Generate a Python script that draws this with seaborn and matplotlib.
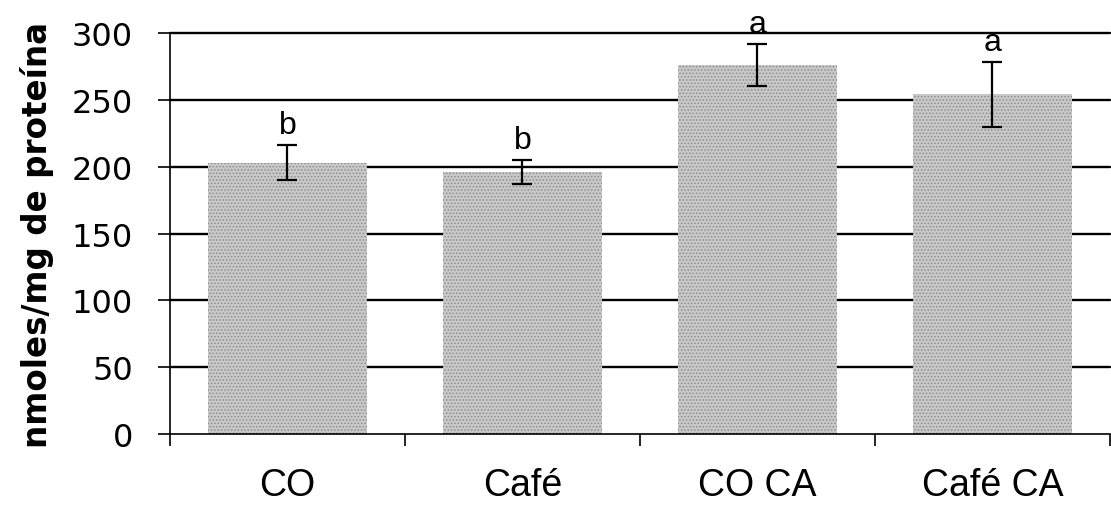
import matplotlib

matplotlib.use("Agg")
import matplotlib.pyplot as plt
import numpy as np
import pandas as pd
import seaborn as sns

# data
groups = ["CO", "Café", "CO CA", "Café CA"]
means = [203, 196, 276, 254]
errors = [13, 9, 16, 24]
letters = ["b", "b", "a", "a"]
yticks = [0, 50, 100, 150, 200, 250, 300]

sns.set_theme(style="white")
plt.rcParams["font.family"] = ["Liberation Sans", "DejaVu Sans"]
plt.rcParams["text.color"] = "black"
plt.rcParams["axes.labelcolor"] = "black"
plt.rcParams["xtick.color"] = "black"
plt.rcParams["ytick.color"] = "black"
plt.rcParams["hatch.color"] = "#8c8c8c"
plt.rcParams["hatch.linewidth"] = 0.7

df = pd.DataFrame({"grupo": groups, "valor": means})

fig = plt.figure(figsize=(11.11, 5.06), dpi=100)
ax = fig.add_axes([0.153, 0.140, 0.846, 0.793])

sns.barplot(data=df, x="grupo", y="valor", color="#c9c9c9", width=0.68,
            errorbar=None, ax=ax, saturation=1)
for p in ax.patches:
    p.set_hatch(".....")
    p.set_edgecolor("#8c8c8c")
    p.set_linewidth(0)

x = np.arange(len(groups))
ax.errorbar(x, means, yerr=errors, fmt="none", ecolor="black",
            elinewidth=1.6, capsize=7, capthick=1.6, zorder=4)
for xi, m, e, lab in zip(x, means, errors, letters):
    ax.text(xi, m + e + 9, lab, ha="center", va="baseline", fontsize=23,
            clip_on=False)

ax.set_ylim(0, 300)
ax.set_xlim(-0.5, len(groups) - 0.5)
ax.set_yticks(yticks)
for y in yticks[1:]:
    ax.axhline(y, color="black", lw=1.7, zorder=0.5, clip_on=False)

ax.set_xticks(x)
ax.set_xticklabels(groups, fontsize=27)
ax.set_xticks(np.arange(len(groups) + 1) - 0.5, minor=True)
ax.tick_params(axis="x", which="major", length=0, pad=24)
ax.tick_params(axis="x", which="minor", length=8.6, width=1.2, direction="out",
               bottom=True)
ax.tick_params(axis="y", length=8.6, width=1.2, direction="out", left=True,
               pad=18)
for t in ax.get_yticklabels():
    t.set_fontfamily("DejaVu Sans")
    t.set_fontsize(23)

ax.set_xlabel("")
ax.set_ylabel("nmoles/mg de proteína", fontsize=23.5, fontweight="bold",
              family="DejaVu Sans", labelpad=13)

for side in ["top", "right"]:
    ax.spines[side].set_visible(False)
for side in ["left", "bottom"]:
    ax.spines[side].set_color("black")
    ax.spines[side].set_linewidth(1.2)

fig.savefig("out.png", dpi=100)
